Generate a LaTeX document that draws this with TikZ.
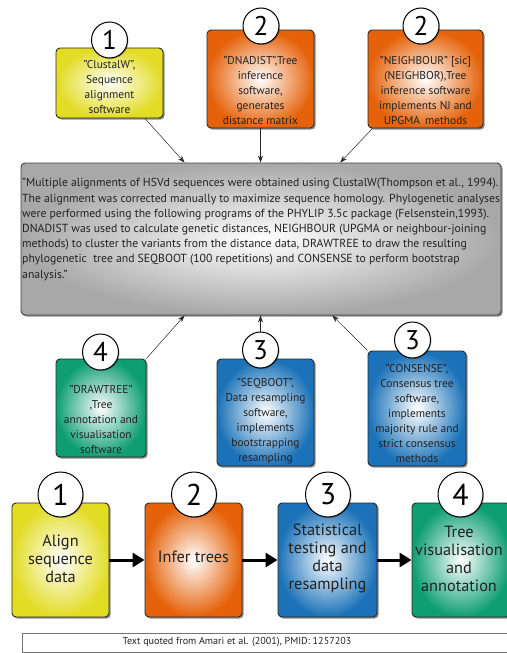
\documentclass[tikz,border=0pt]{standalone}
\usepackage{fontspec}
\setmainfont{PT Sans}
\usetikzlibrary{shadows,arrows.meta,calc}
\definecolor{cyel}{HTML}{E2DC25}
\definecolor{cora}{HTML}{E5620A}
\definecolor{cblu}{HTML}{1B72B8}
\definecolor{cgrn}{HTML}{0E9E72}
\definecolor{cgry}{HTML}{A8A8A8}
\definecolor{ctxt}{HTML}{222222}
\begin{document}
\begin{tikzpicture}[x=1pt,y=-1pt,
  shd/.style={drop shadow={shadow xshift=1.6pt,shadow yshift=-1.6pt,opacity=0.45,fill=black}},
  box/.style={draw=black!85, line width=0.9pt, rounded corners=4pt, inner sep=0pt, shd},
  yelbox/.style={box, inner color=white, outer color=cyel},
  orabox/.style={box, inner color=white, outer color=cora},
  blubox/.style={box, inner color=white, outer color=cblu},
  grnbox/.style={box, inner color=white, outer color=cgrn},
  smalltxt/.style={align=center, text=ctxt, inner sep=0pt, font=\fontsize{11.4}{15}\selectfont},
  bigtxt/.style={align=center, text=ctxt, inner sep=0pt, font=\fontsize{16.3}{18}\selectfont},
  num/.style={circle, draw=black, line width=1pt, fill=white, inner sep=0pt, minimum size=36pt,
    font=\fontsize{27}{27}\selectfont, drop shadow={shadow xshift=1pt,shadow yshift=-1pt,opacity=0.3,fill=black}},
  bignum/.style={num, minimum size=45pt, font=\fontsize{30}{30}\selectfont},
  thinarrow/.style={-{Stealth[length=7pt,width=5pt]}, line width=0.5pt, draw=black!85},
  thickarrow/.style={-{Triangle[length=12pt,width=14pt]}, line width=3pt, draw=black}
]
\useasboundingbox (0,0) rectangle (506,653);

% top row
\node[yelbox, minimum width=107pt, minimum height=70pt] (t1) at (109.5,83) {};
\node[smalltxt] (t1txt) at (109.5,87) {"ClustalW",\\Sequence\\alignment\\software};
\node[num] (c1) at (109.5,40) {1};

\node[orabox, minimum width=107pt, minimum height=98pt] (t2) at (260.5,79) {};
\node[smalltxt] (t2txt) at (260.5,91) {"DNADIST",Tree\\inference\\software,\\generates\\distance matrix};
\node[num] (c2) at (261,26) {2};

\node[orabox, minimum width=115pt, minimum height=98pt] (t3) at (425.5,79) {};
\node[smalltxt] (t3txt) at (425.5,91) {"NEIGHBOUR" [sic]\\(NEIGHBOR),Tree\\inference software\\implements NJ and\\UPGMA\, methods};
\node[num] (c3) at (421,26) {2};

% central box
\node[draw=black!75, line width=0.9pt, rounded corners=4pt, inner color=white, outer color=cgry,
  minimum width=480pt, minimum height=152pt, shd] (g) at (261,239) {};
\node[anchor=west, align=left, text=ctxt, inner sep=0pt, font=\fontsize{11.7}{15.2}\selectfont] (gtxt) at (22,229.5)
{"Multiple alignments of HSVd sequences were obtained using ClustalW(Thompson et al., 1994).\\
The alignment was corrected manually to maximize sequence homology. Phylogenetic analyses\\
were performed using the following programs of the PHYLIP 3.5c package (Felsenstein,1993).\\
DNADIST was used to calculate genetic distances, NEIGHBOUR (UPGMA or neighbour-joining\\
methods) to cluster the variants from the distance data, DRAWTREE to draw the resulting\\
phylogenetic\ \ tree and SEQBOOT (100 repetitions) and CONSENSE to perform bootstrap\\
analysis."};

% middle row
\node[grnbox, minimum width=90pt, minimum height=98pt] (m4) at (101,408) {};
\node[smalltxt] (m4txt) at (101,419.5) {"DRAWTREE"\\,Tree\\annotation and\\visualisation\\software};
\node[num] (c4) at (100.5,352) {4};

\node[blubox, minimum width=97pt, minimum height=107pt] (m5) at (265.5,412.5) {};
\node[smalltxt] (m5txt) at (265.5,421) {"SEQBOOT",\\Data resampling\\software,\\implements\\bootstrapping\\resampling};
\node[num] (c5) at (260.5,350) {3};

\node[blubox, minimum width=98pt, minimum height=115pt] (m6) at (417,408.5) {};
\node[smalltxt] (m6txt) at (417,414) {"CONSENSE",\\Consensus tree\\software,\\implements\\majority rule and\\strict consensus\\methods};
\node[num] (c6) at (412.5,340) {3};

% connectors to central box
\draw[thinarrow] (t1.-45) -- (g.135);
\draw[thinarrow] (t2.south) -- (t2.south |- g.north);
\draw[thinarrow] (t3.223) -- (g.44);
\draw[thinarrow] (m4.north east) -- (g.-135);
\draw[thinarrow] (c5.north) -- (c5.north |- g.south);
\draw[thinarrow] (m6.north west) -- (g.-47);

% bottom row
\node[yelbox, minimum width=97pt, minimum height=114pt] (bA) at (60.5,560) {};
\node[bigtxt] (bAtxt) at (60.5,559) {Align\\sequence\\data};
\node[bignum] (dA) at (60.5,494.5) {1};

\node[orabox, minimum width=97pt, minimum height=114pt] (bB) at (193.5,560) {};
\node[bigtxt] (bBtxt) at (193.5,557) {Infer trees};
\node[bignum] (dB) at (194,494.5) {2};

\node[blubox, minimum width=99pt, minimum height=114pt] (bC) at (327.5,560) {};
\node[bigtxt] (bCtxt) at (327.5,558.5) {Statistical\\testing and\\data\\resampling};
\node[bignum] (dC) at (328,494.5) {3};

\node[grnbox, minimum width=98pt, minimum height=114pt] (bD) at (461,560) {};
\node[bigtxt] (bDtxt) at (459,558.5) {Tree\\visualisation\\and\\annotation};
\node[bignum] (dD) at (460.5,494.5) {4};

\draw[thickarrow] (bA.east) -- (bB.west);
\draw[thickarrow] (bB.east) -- (bC.west);
\draw[thickarrow] (bC.east) -- (bD.west);

% footer
\node[draw=black!55, line width=0.7pt, minimum width=498pt, minimum height=19pt, inner sep=0pt] (foot) at (271,642.5) {};
\node[text=ctxt, inner sep=0pt, font=\fontsize{10.1}{11}\selectfont] (foottxt) at (237,642.5) {Text quoted from Amari et al. (2001), PMID: 1257203};
\end{tikzpicture}
\end{document}
